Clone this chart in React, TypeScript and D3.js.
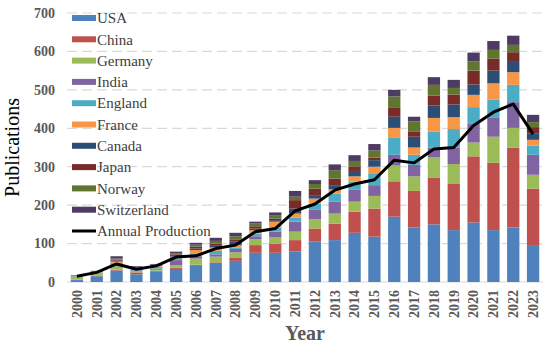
import * as d3 from "d3";

const years = [
  "2000", "2001", "2002", "2003", "2004", "2005", "2006", "2007", "2008", "2009", "2010", "2011",
  "2012", "2013", "2014", "2015", "2016", "2017", "2018", "2019", "2020", "2021", "2022", "2023",
];

const countries = ["USA", "China", "Germany", "India", "England", "France", "Canada", "Japan", "Norway", "Switzerland"];

const usa = [5, 15, 30, 20, 27, 34, 42, 47, 55, 76, 76, 79, 105, 109, 128, 118, 170, 142, 150, 135, 155, 135, 142, 94];
const china = [1, 1, 2, 5, 2, 3, 3, 4, 9, 20, 24, 30, 34, 43, 55, 73, 92, 95, 122, 120, 172, 175, 208, 149];
const germany = [6, 6, 12, 3, 3, 7, 16, 15, 13, 15, 16, 22, 24, 26, 26, 33, 41, 38, 52, 52, 36, 68, 51, 36];
const india = [1, 1, 3, 2, 3, 13, 6, 6, 9, 8, 15, 26, 26, 31, 32, 28, 28, 30, 26, 43, 50, 49, 67, 52];
const england = [2, 2, 3, 2, 5, 5, 6, 9, 4, 7, 11, 11, 15, 21, 20, 29, 44, 26, 41, 48, 42, 48, 45, 24];
const france = [1, 1, 3, 3, 2, 4, 10, 9, 6, 9, 15, 10, 13, 11, 14, 19, 26, 19, 36, 31, 32, 42, 33, 15];
const canada = [0, 1, 3, 1, 1, 2, 4, 6, 9, 4, 4, 13, 9, 11, 14, 17, 29, 28, 32, 33, 27, 33, 29, 17];
const japan = [0, 0, 2, 2, 1, 4, 5, 4, 6, 6, 4, 22, 17, 17, 12, 7, 23, 14, 26, 26, 36, 31, 23, 16];
const norway = [1, 1, 3, 1, 1, 3, 5, 7, 8, 7, 9, 9, 12, 22, 14, 18, 30, 26, 28, 17, 24, 23, 19, 13];
const switzerland = [1, 1, 6, 2, 2, 4, 5, 8, 9, 5, 7, 15, 10, 15, 15, 17, 17, 12, 20, 21, 23, 23, 24, 19];

const annualProduction = [15, 25, 47, 33, 42, 65, 68, 87, 96, 131, 139, 185, 203, 239, 255, 266, 317, 310, 346, 350, 407, 442, 463, 385];

const seriesValues = [usa, china, germany, india, england, france, canada, japan, norway, switzerland];
const colors = ["#4F81BD", "#C0504D", "#9BBB59", "#8064A2", "#4BACC6", "#F79646", "#2C4D75", "#772C2A", "#5F7530", "#4D3B62"];

const yTicks = [0, 100, 200, 300, 400, 500, 600, 700];

export default function App() {
  const W = 550;
  const H = 345;
  const m = { left: 67, right: 7, top: 13, bottom: 63 };
  const font = "'Liberation Serif', 'Times New Roman', serif";

  const x = d3.scaleBand().domain(years).range([m.left, W - m.right]).paddingInner(0.38).paddingOuter(0.19);
  const y = d3.scaleLinear().domain([0, 700]).range([H - m.bottom, m.top]);

  // one row per year, keyed by country, for d3.stack
  const rows = years.map((yr, i) => {
    const r: Record<string, number | string> = { year: yr };
    countries.forEach((c, k) => (r[c] = seriesValues[k][i]));
    return r;
  });
  const stacked = d3.stack<Record<string, number | string>>().keys(countries)(rows as any);

  const line = d3
    .line<number>()
    .x((_, i) => (x(years[i]) ?? 0) + x.bandwidth() / 2)
    .y((d) => y(d));

  const legendX = 72;
  const legendY0 = 18;
  const legendStep = 21.3;

  return (
    <>
      <style>{`body{margin:0}`}</style>
      <svg width={W} height={H} style={{ display: "block", background: "#fff" }} fontFamily={font}>
        {yTicks.slice(1).map((t) => (
          <line
            key={t}
            x1={m.left}
            x2={W - m.right}
            y1={y(t)}
            y2={y(t)}
            stroke="#D9D9D9"
            strokeWidth={1.2}
            strokeDasharray="10,5"
          />
        ))}
        <line x1={m.left} x2={W - m.right} y1={y(0)} y2={y(0)} stroke="#D9D9D9" strokeWidth={1} />

        {yTicks.map((t) => (
          <text key={t} x={55} y={y(t)} dy="0.35em" textAnchor="end" fontSize={14} fontWeight="bold" fill="#595959">
            {t}
          </text>
        ))}

        {stacked.map((s, k) => (
          <g key={countries[k]} fill={colors[k]}>
            {s.map((d, i) => (
              <rect
                key={i}
                x={x(years[i])}
                y={y(d[1])}
                width={x.bandwidth()}
                height={Math.max(0, y(d[0]) - y(d[1]))}
              />
            ))}
          </g>
        ))}

        <path d={line(annualProduction) ?? ""} fill="none" stroke="#000" strokeWidth={3} strokeLinejoin="round" />

        {years.map((yr) => (
          <text
            key={yr}
            transform={`translate(${(x(yr) ?? 0) + x.bandwidth() / 2},${H - m.bottom + 8}) rotate(-90)`}
            dy="0.35em"
            textAnchor="end"
            fontSize={14}
            fontWeight="bold"
            fill="#595959"
          >
            {yr}
          </text>
        ))}

        <text x={(m.left + W - m.right) / 2} y={340} textAnchor="middle" fontSize={20} fontWeight="bold" fill="#595959">
          Year
        </text>
        <text transform={`translate(19,${(m.top + H - m.bottom) / 2}) rotate(-90)`} textAnchor="middle" fontSize={20} fill="#000">
          Publications
        </text>

        {countries.map((c, k) => (
          <g key={c} transform={`translate(${legendX},${legendY0 + k * legendStep})`}>
            <rect x={0} y={-3} width={24} height={6} fill={colors[k]} />
            <text x={25} y={0} dy="0.35em" fontSize={15} fill="#404040">
              {c}
            </text>
          </g>
        ))}
        <g transform={`translate(${legendX},${legendY0 + countries.length * legendStep})`}>
          <line x1={0} x2={24} y1={0} y2={0} stroke="#000" strokeWidth={3} />
          <text x={25} y={0} dy="0.35em" fontSize={15} fill="#404040">
            Annual Production
          </text>
        </g>
      </svg>
    </>
  );
}
